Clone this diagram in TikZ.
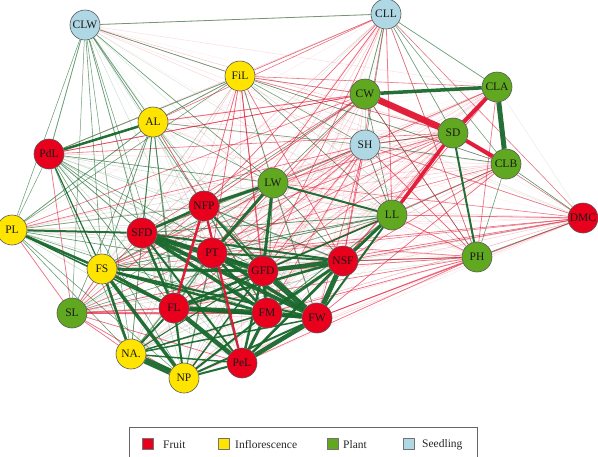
\documentclass[tikz,border=0pt]{standalone}
\usepackage{fontspec}
\setmainfont{Liberation Serif}
\usetikzlibrary{backgrounds}
\definecolor{fruit}{RGB}{232,0,28}
\definecolor{infl}{RGB}{255,228,0}
\definecolor{plant}{RGB}{96,168,32}
\definecolor{seed}{RGB}{176,216,228}
\definecolor{eg}{RGB}{24,104,44}
\definecolor{er}{RGB}{226,20,50}
\tikzset{
  nd/.style={circle, minimum size=30pt, inner sep=0pt, draw=black!65, line width=0.6pt,
    font=\fontsize{11.5}{12}\selectfont, text=black!90},
  fr/.style={nd, fill=fruit},
  inf/.style={nd, fill=infl},
  pl/.style={nd, fill=plant},
  sd/.style={nd, fill=seed},
  legsq/.style={rectangle, minimum size=11pt, inner sep=0pt, draw=black!55, line width=0.5pt},
  legtx/.style={anchor=west, inner sep=0pt, font=\fontsize{11.5}{12}\selectfont, text=black!85},
  ge/.style={draw=eg, line cap=butt},
  re/.style={draw=er, line cap=butt},
}
\begin{document}
\begin{tikzpicture}[x=1pt,y=-1pt]
\useasboundingbox (0,0) rectangle (598,456);
% nodes
\node[sd]  (CLW) at (85,25)   {CLW};
\node[sd]  (CLL) at (386,14)  {CLL};
\node[inf] (FiL) at (240,76)  {FiL};
\node[pl]  (CW)  at (365,94)  {CW};
\node[pl]  (CLA) at (497,87)  {CLA};
\node[inf] (AL)  at (153,122) {AL};
\node[pl]  (SD)  at (453,133) {SD};
\node[sd]  (SH)  at (365,145) {SH};
\node[pl]  (CLB) at (506,164) {CLB};
\node[fr]  (PdL) at (49,154)  {PdL};
\node[pl]  (LW)  at (273,183) {LW};
\node[fr]  (NFP) at (204,206) {NFP};
\node[pl]  (LL)  at (392,215) {LL};
\node[fr]  (DMC) at (583,218) {DMC};
\node[inf] (PL)  at (12,230)  {PL};
\node[fr]  (SFD) at (142,233) {SFD};
\node[fr]  (PT)  at (212,253) {PT};
\node[pl]  (PH)  at (477,257) {PH};
\node[fr]  (GFD) at (263,271) {GFD};
\node[fr]  (NSF) at (343,261) {NSF};
\node[inf] (FS)  at (102,269) {FS};
\node[pl]  (SL)  at (72,313)  {SL};
\node[fr]  (FL)  at (174,308) {FL};
\node[fr]  (FM)  at (267,313) {FM};
\node[fr]  (FW)  at (317,318) {FW};
\node[inf] (NA)  at (131,354) {NA.};
\node[fr]  (PeL) at (242,363) {PeL};
\node[inf] (NP)  at (184,378) {NP};

\begin{pgfonlayer}{background}
% faint complete layer
\pgfmathsetseed{7}
\def\nodelist{CLW/1,CLL/-1,FiL/-1,CW/-1,CLA/-1,AL/1,SD/-1,SH/-1,CLB/-1,PdL/1,LW/1,NFP/1,LL/1,DMC/-1,PL/1,SFD/1,PT/1,PH/-1,GFD/1,NSF/1,FS/1,SL/-1,FL/1,FM/1,FW/1,NA/1,PeL/1,NP/1}
\foreach \a/\sa [count=\i] in \nodelist {
  \foreach \b/\sb [count=\j] in \nodelist {
    \ifnum\j>\i
      \pgfmathsetmacro\op{0.04+0.22*rnd}
      \ifnum\numexpr\sa*\sb\relax>0 \def\ec{eg}\else\def\ec{er}\fi
      \draw[draw=\ec, line width=0.5pt, draw opacity=\op] (\a) -- (\b);
    \fi
  }
}
% medium green
\foreach \a/\b/\w in {CLW/CLL/0.8, CLW/AL/0.8, CLW/FiL/0.7, CLW/PdL/0.8, CLW/PL/0.5, CLW/SFD/0.7, CLW/FS/0.6, CLW/NFP/0.7, CLW/LW/0.6, CLW/FL/0.5, CLW/NA/0.5,
  CLL/CW/0.8, CLL/CLA/0.7, CLL/SD/0.6, CLL/SH/0.6, CLL/CLB/0.5,
  FiL/AL/0.8, FiL/PdL/0.8, FiL/LW/0.8, FiL/PL/0.6, FiL/SH/0.6, FiL/LL/0.6, FiL/CLB/0.5,
  AL/SFD/0.8, AL/FS/0.8, AL/PL/0.8, AL/FL/0.8, AL/NA/0.7, AL/LW/0.6, AL/GFD/0.6, AL/NP/0.6, AL/SH/0.6,
  PdL/SFD/0.8, PdL/PL/0.5, PdL/FL/0.7, PdL/NA/0.7, PdL/GFD/0.6, PdL/FM/0.6, PdL/NP/0.6, PdL/LW/0.6,
  PL/NA/0.6, PL/NP/0.6, PL/GFD/0.6, PL/FM/0.6, PL/NFP/0.6,
  LW/SH/0.8, LW/CW/0.6, LW/FM/0.8, LW/NSF/0.8, LW/FW/0.8, LW/SFD/0.8, LW/FS/0.7,
  SH/LL/0.8, SH/CLB/0.7, SH/SD/0.7, CW/LL/0.7, CW/FS/0.6, CW/PH/0.5,
  LL/FS/0.8, LL/SFD/0.8, LL/FL/0.8, LL/FM/1, LL/PT/0.8, LL/PeL/0.8,
  CLB/LL/0.6, CLB/DMC/0.6, PH/DMC/0.8, PH/CLB/0.6, PH/NSF/0.6,
  NFP/FM/1.2, NFP/FW/1.2, NFP/NSF/1.2, PT/SFD/1.5, PT/FL/1.5, PT/PeL/1.5, PT/NA/1.2, PT/NP/1.2,
  SL/AL/0.6, SL/LW/0.6, SL/LL/0.6, SL/CLW/0.5}
  {\draw[ge, line width=\w pt, draw opacity=0.6] (\a) -- (\b);}
% medium red
\foreach \a/\b/\w in {AL/CW/1, AL/NFP/0.8, FiL/NFP/0.8, FiL/PT/0.8, FiL/GFD/0.8, FiL/FM/0.7, FiL/NSF/0.7, FiL/CW/0.8, FiL/SD/0.7, FiL/CLA/0.6,
  SH/FS/0.8, SH/FL/0.8, SH/GFD/0.8, SH/NSF/0.8, SH/PT/0.8, SH/FM/0.7, SH/FW/0.7, SH/PL/0.7, SH/SFD/0.6,
  CW/NFP/0.8, CW/PT/0.7, CW/SFD/0.7, CW/PdL/0.7, CW/PL/0.6,
  CLL/NFP/0.7, CLL/PT/0.7, CLL/GFD/0.6, CLL/LL/0.8, CLL/NSF/0.6, CLL/FiL/0.6, CLL/AL/0.5,
  SD/SH/0.8, SD/NSF/0.8, SD/GFD/0.7, SD/FS/0.7, SD/PT/0.7, SD/LW/0.8,
  CLA/LL/0.8, CLA/NSF/0.7, CLA/SH/0.8, CLA/PH/0.7,
  CLB/NSF/0.7, CLB/FW/0.7, CLB/GFD/0.6, CLB/FS/0.6,
  PH/FW/0.8, PH/NSF/0.9, PH/GFD/0.8, PH/FM/0.7, PH/PeL/0.7, PH/FL/0.7, PH/LL/0.8, PH/SH/0.8, PH/CLL/0.7, PH/CW/0.7, PH/SFD/0.6,
  DMC/LL/0.8, DMC/NSF/0.8, DMC/FW/0.8, DMC/GFD/0.7, DMC/SH/0.7, DMC/CLL/0.6, DMC/LW/0.6, DMC/FS/0.6, DMC/PT/0.6, DMC/SD/0.5,
  SL/FL/1.5, SL/FM/1.2, SL/FS/0.8, SL/PL/0.8, SL/SFD/0.7, SL/NFP/0.7, SL/PT/0.7, SL/GFD/0.8, SL/NA/0.7, SL/NP/0.7, SL/PeL/0.7, SL/PdL/0.7,
  PdL/CW/0.6, PdL/SD/0.6}
  {\draw[re, line width=\w pt, draw opacity=0.55] (\a) -- (\b);}
% strong green
\foreach \a/\b/\w in {NA/NP/6.5, FL/FM/5, SFD/GFD/5, GFD/FW/5.5, SFD/FW/4, SFD/FM/3.5, FL/PeL/4.5, GFD/NSF/4.5, NSF/FW/5, FM/FW/4.5, FW/PeL/4.5, FM/PeL/3, GFD/FM/3.5, NSF/FM/3,
  FS/FL/3, FS/NP/3.5, FS/NA/2.5, FS/GFD/3, FS/FM/2.5, FS/FW/2, PL/FS/2.5, PL/SFD/2, PL/FL/1.5, SFD/FL/2.5, SFD/PeL/2, SFD/NSF/2, NFP/SFD/2.5, NFP/LW/3, PT/LW/3, LW/GFD/3, LW/LL/2,
  NFP/GFD/2, PT/FW/3.5, PT/FM/2.5, PT/GFD/2, PT/NSF/2, NSF/LL/3, NSF/PeL/2.5, FL/NSF/2.5, FL/FW/3, FL/GFD/2.5, FL/NP/2, FL/NA/2, NP/PeL/2, NP/FM/2, NP/FW/2, NP/GFD/1.5,
  NA/PeL/1.5, NA/FM/1.5, NA/FW/1.5, NA/GFD/1, PeL/GFD/2.5, PdL/AL/2.5, PdL/FS/1.2, CW/CLA/3.5, CLA/CLB/5, SD/PH/2, LL/FW/2, LL/GFD/1.5}
  {\draw[ge, line width=\w pt, draw opacity=0.95] (\a) -- (\b);}
% strong red
\foreach \a/\b/\w in {SD/CW/6.5, SD/CLA/4, SD/CLB/4, SD/LL/3.5, NFP/FL/2.5, NFP/PeL/2.2}
  {\draw[re, line width=\w pt, draw opacity=0.95] (\a) -- (\b);}
\end{pgfonlayer}

% legend
\draw[draw=black!60, line width=0.6pt] (129,460) -- (129,427) -- (477,427) -- (477,460);
\node[legsq, fill=fruit] (lf) at (148,444) {};
\node[legtx] (tf) at (163,445) {Fruit};
\node[legsq, fill=infl] (li) at (224,444) {};
\node[legtx] (ti) at (235,445) {Inflorescence};
\node[legsq, fill=plant] (lp) at (333,444) {};
\node[legtx] (tp) at (343,445) {Plant};
\node[legsq, fill=seed] (ls) at (409,444) {};
\node[legtx] (ts) at (422,445) {Seedling};
\end{tikzpicture}
\end{document}
